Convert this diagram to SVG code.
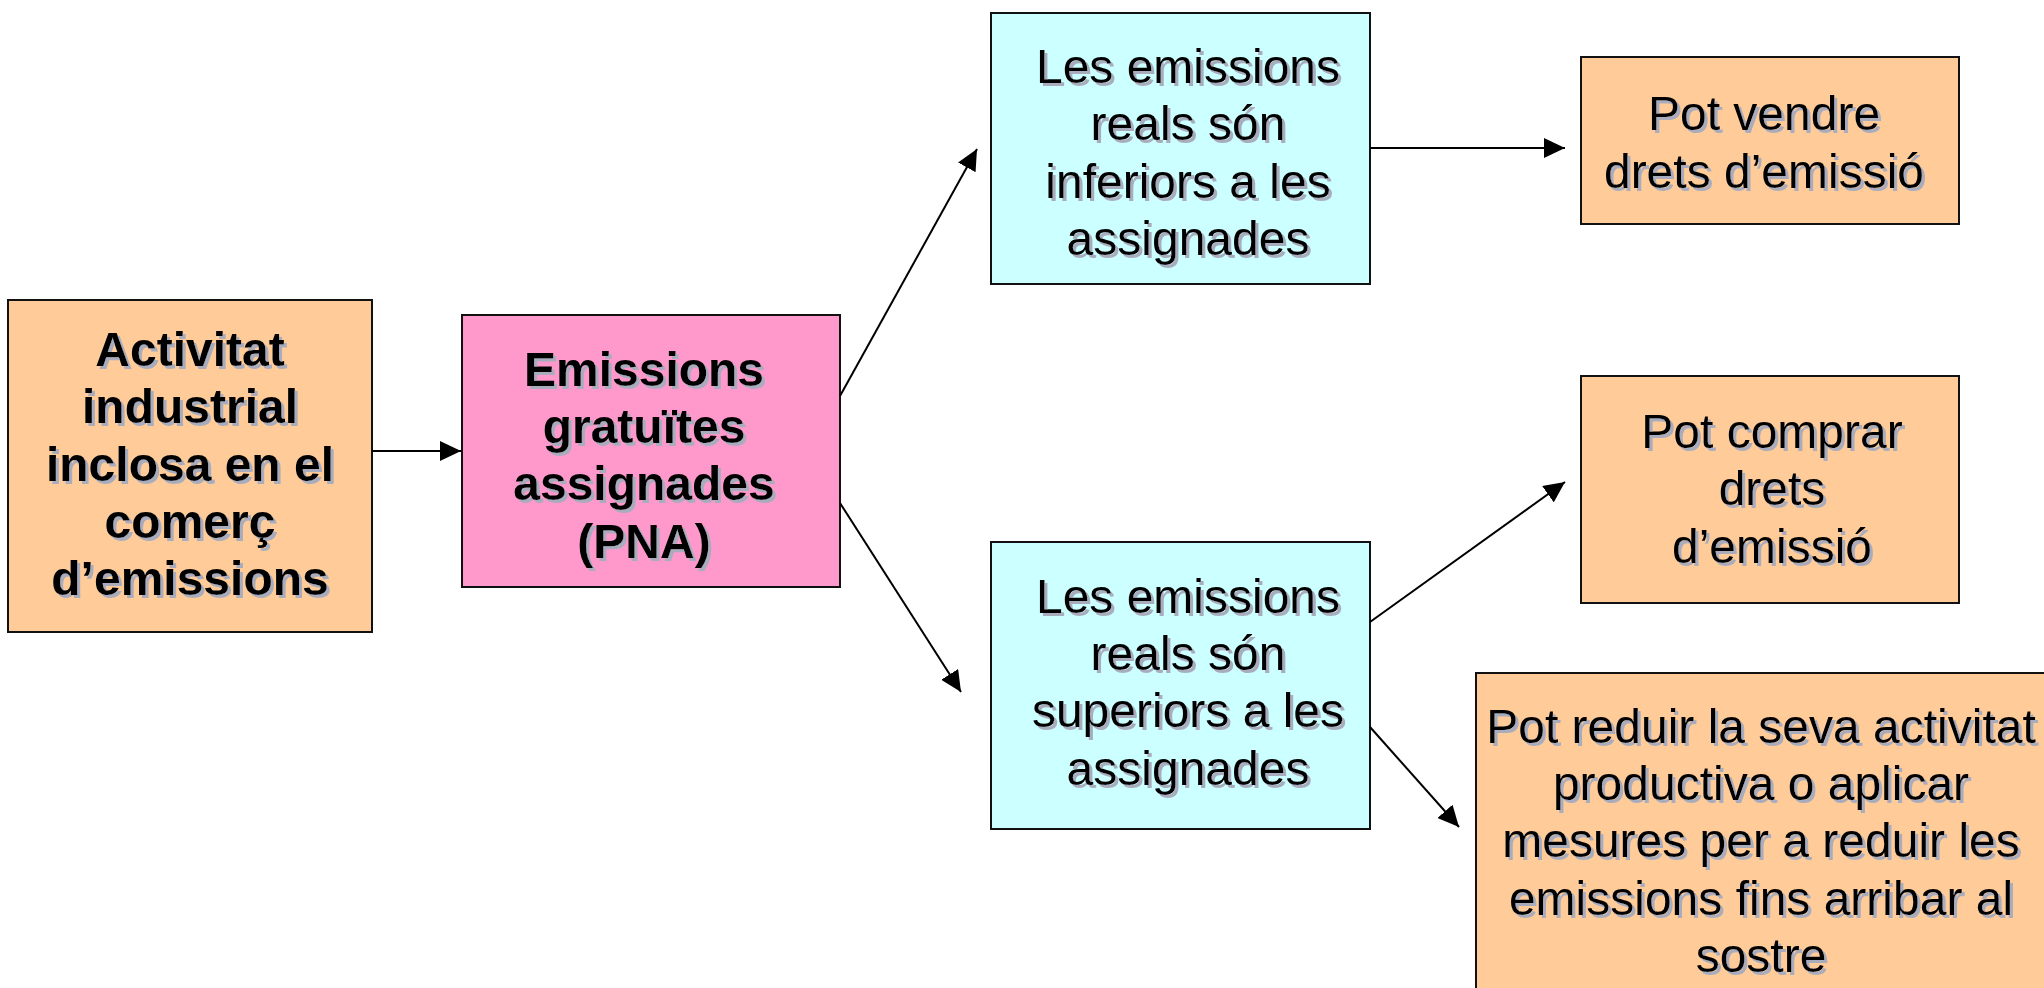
<svg xmlns="http://www.w3.org/2000/svg" width="2044" height="988" viewBox="0 0 2044 988">
<style>
.box{stroke:#111;stroke-width:2}
.or{fill:#FFCC99}
.pk{fill:#FF99CC}
.cy{fill:#CCFFFF}
.t{font-family:"Liberation Sans",Arial,sans-serif;font-size:48px;fill:#000;text-anchor:middle;filter:url(#ts)}
.b{font-weight:bold}
.c{stroke:#000;stroke-width:2;fill:none;marker-end:url(#ah)}
</style>
<defs>
<filter id="ts" x="-5%" y="-5%" width="115%" height="120%">
<feOffset in="SourceAlpha" dx="2.5" dy="2.5" result="o"/>
<feFlood flood-color="#A8ACBC"/>
<feComposite in2="o" operator="in" result="s"/>
<feMerge><feMergeNode in="s"/><feMergeNode in="SourceGraphic"/></feMerge>
</filter>
<marker id="ah" markerUnits="userSpaceOnUse" markerWidth="22" markerHeight="20" refX="21" refY="10" orient="auto">
<path d="M0,0 L21,10 L0,20 z" fill="#000"/>
</marker>
</defs>
<rect width="2044" height="988" fill="#fff"/>
<g id="n1">
<rect class="box or" x="8" y="300" width="364" height="332"/>
<text class="t b"><tspan x="190" y="366">Activitat</tspan><tspan x="190" y="423">industrial</tspan><tspan x="190" y="481">inclosa en el</tspan><tspan x="190" y="538">comerç</tspan><tspan x="190" y="595">d’emissions</tspan></text>
</g>
<g id="n2">
<rect class="box pk" x="462" y="315" width="378" height="272"/>
<text class="t b"><tspan x="644" y="386">Emissions</tspan><tspan x="644" y="443">gratuïtes</tspan><tspan x="644" y="500">assignades</tspan><tspan x="644" y="558">(PNA)</tspan></text>
</g>
<g id="n3">
<rect class="box cy" x="991" y="13" width="379" height="271"/>
<text class="t"><tspan x="1188" y="83">Les emissions</tspan><tspan x="1188" y="140">reals són</tspan><tspan x="1188" y="198">inferiors a les</tspan><tspan x="1188" y="255">assignades</tspan></text>
</g>
<g id="n4">
<rect class="box cy" x="991" y="542" width="379" height="287"/>
<text class="t"><tspan x="1188" y="613">Les emissions</tspan><tspan x="1188" y="670">reals són</tspan><tspan x="1188" y="727">superiors a les</tspan><tspan x="1188" y="785">assignades</tspan></text>
</g>
<g id="n5">
<rect class="box or" x="1581" y="57" width="378" height="167"/>
<text class="t"><tspan x="1764" y="130">Pot vendre</tspan><tspan x="1764" y="188">drets d’emissió</tspan></text>
</g>
<g id="n6">
<rect class="box or" x="1581" y="376" width="378" height="227"/>
<text class="t"><tspan x="1772" y="448">Pot comprar</tspan><tspan x="1772" y="505">drets</tspan><tspan x="1772" y="563">d’emissió</tspan></text>
</g>
<g id="n7">
<rect class="box or" x="1476" y="673" width="600" height="340"/>
<text class="t"><tspan x="1761" y="743">Pot reduir la seva activitat</tspan><tspan x="1761" y="800">productiva o aplicar</tspan><tspan x="1761" y="857">mesures per a reduir les</tspan><tspan x="1761" y="915">emissions fins arribar al</tspan><tspan x="1761" y="972">sostre</tspan></text>
</g>
<g id="connectors">
<line class="c" x1="372" y1="451" x2="461" y2="451"/>
<line class="c" x1="840" y1="396" x2="977" y2="149"/>
<line class="c" x1="840" y1="503" x2="961" y2="692"/>
<line class="c" x1="1370" y1="148" x2="1565" y2="148"/>
<line class="c" x1="1370" y1="622" x2="1565" y2="482"/>
<line class="c" x1="1370" y1="727" x2="1459" y2="827"/>
</g>
</svg>
